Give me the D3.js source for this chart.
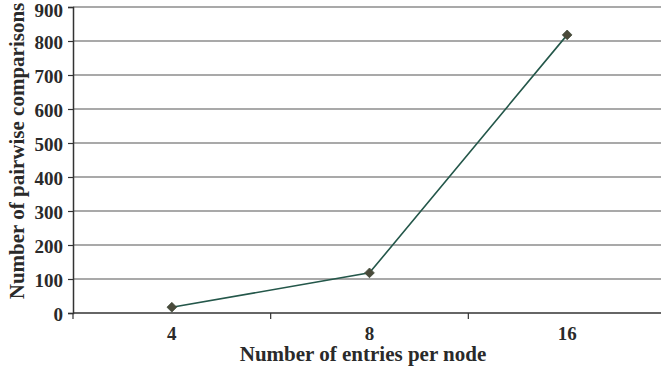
<!DOCTYPE html>
<html>
<head>
<meta charset="utf-8">
<script src="https://cdn.jsdelivr.net/npm/d3@7"></script>
<style>
  html, body { margin: 0; padding: 0; background: #fff; }
  svg { display: block; }
  text { font-family: "Liberation Serif", "Times New Roman", serif; font-weight: bold; fill: #2a2a2a; }
</style>
</head>
<body>
<svg id="chart" width="661" height="371"></svg>
<script>
// Entries per node (categories) and measured pairwise comparisons
const categories = ["4", "8", "16"];
const comparisons = [17, 118, 818];
const yTicks = [0, 100, 200, 300, 400, 500, 600, 700, 800, 900];

const svg = d3.select("#chart");
const plotLeft = 73, plotRight = 666, plotTop = 7, plotBottom = 313;

const x = d3.scaleBand().domain(categories).range([plotLeft, plotRight]).padding(0);
const y = d3.scaleLinear().domain([0, 900]).range([plotBottom, plotTop]);

// Horizontal gridlines
svg.append("g")
  .selectAll("line")
  .data(yTicks.slice(1))
  .join("line")
  .attr("x1", plotLeft).attr("x2", 661)
  .attr("y1", d => y(d)).attr("y2", d => y(d))
  .attr("stroke", "#555").attr("stroke-width", 1.2);

// Y axis
const yAxis = svg.append("g")
  .attr("transform", `translate(${plotLeft},0)`)
  .call(d3.axisLeft(y).tickValues(yTicks).tickSize(5).tickPadding(5));
yAxis.select(".domain").attr("stroke", "#333").attr("stroke-width", 1.5);
yAxis.selectAll(".tick line").attr("stroke", "#333").attr("stroke-width", 1.2);
yAxis.selectAll(".tick text")
  .attr("font-size", 19)
  .attr("dy", d => d === 900 ? "0.5em" : "0.42em");

// X axis with ticks at band boundaries
const xAxisG = svg.append("g").attr("transform", `translate(0,${plotBottom})`);
xAxisG.append("line")
  .attr("x1", plotLeft).attr("x2", 661).attr("y1", 0).attr("y2", 0)
  .attr("stroke", "#333").attr("stroke-width", 1.5);
const boundaries = categories.map(c => x(c));
xAxisG.selectAll("line.tk")
  .data(boundaries)
  .join("line").attr("class", "tk")
  .attr("x1", d => d).attr("x2", d => d)
  .attr("y1", 0).attr("y2", 6)
  .attr("stroke", "#333").attr("stroke-width", 1.2);
xAxisG.selectAll("text")
  .data(categories)
  .join("text")
  .attr("x", d => x(d) + x.bandwidth() / 2)
  .attr("y", 27)
  .attr("text-anchor", "middle")
  .attr("font-size", 19)
  .text(d => d);

// Axis titles
svg.append("text")
  .attr("x", 363).attr("y", 361)
  .attr("text-anchor", "middle")
  .attr("font-size", 21)
  .text("Number of entries per node");
svg.append("text")
  .attr("transform", `translate(24,151) rotate(-90)`)
  .attr("text-anchor", "middle")
  .attr("font-size", 21)
  .text("Number of pairwise comparisons");

// Series line
const pts = categories.map((c, i) => [x(c) + x.bandwidth() / 2, y(comparisons[i])]);
svg.append("path")
  .attr("d", d3.line()(pts))
  .attr("fill", "none")
  .attr("stroke", "#24574a")
  .attr("stroke-width", 1.6);

// Diamond markers
svg.append("g")
  .selectAll("path")
  .data(pts)
  .join("path")
  .attr("transform", d => `translate(${d[0]},${d[1]})`)
  .attr("d", d3.symbol().type(d3.symbolDiamond2).size(60))
  .attr("fill", "#4a4a3a")
  .attr("stroke", "#3f4a3a")
  .attr("stroke-width", 0.8);
</script>
</body>
</html>
